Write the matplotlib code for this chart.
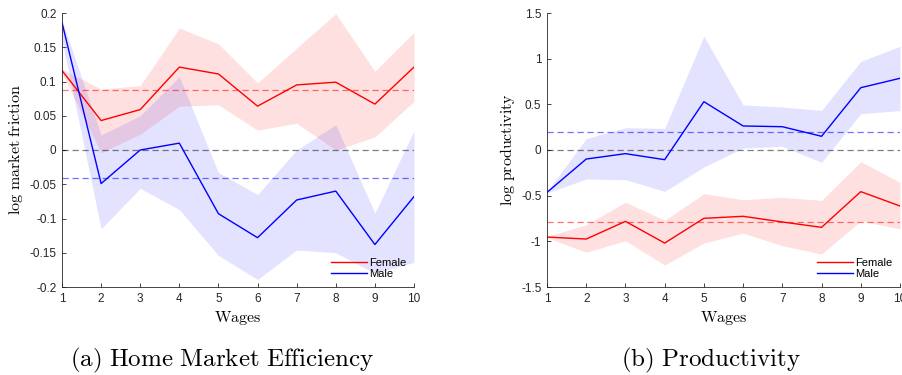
import matplotlib.pyplot as plt
import numpy as np

plt.rcParams['mathtext.fontset'] = 'cm'
plt.rcParams['font.family'] = ['Liberation Sans', 'DejaVu Sans']

wages = np.arange(1, 11)

# (a) log market friction
fric_female = [0.116, 0.043, 0.059, 0.121, 0.111, 0.064, 0.095, 0.099, 0.067, 0.121]
fric_female_hi = [0.118, 0.089, 0.094, 0.178, 0.155, 0.098, 0.149, 0.199, 0.115, 0.172]
fric_female_lo = [0.112, -0.004, 0.023, 0.064, 0.066, 0.029, 0.039, 0.000, 0.019, 0.071]
fric_male = [0.186, -0.049, 0.000, 0.010, -0.093, -0.128, -0.073, -0.060, -0.138, -0.068]
fric_male_hi = [0.190, 0.022, 0.050, 0.107, -0.033, -0.065, 0.000, 0.037, -0.092, 0.028]
fric_male_lo = [0.160, -0.115, -0.056, -0.087, -0.154, -0.189, -0.146, -0.150, -0.180, -0.164]
fric_female_mean = 0.088
fric_male_mean = -0.041

# (b) log productivity
prod_female = [-0.953, -0.975, -0.781, -1.019, -0.748, -0.726, -0.788, -0.847, -0.456, -0.613]
prod_female_hi = [-0.945, -0.818, -0.570, -0.770, -0.478, -0.544, -0.518, -0.551, -0.128, -0.354]
prod_female_lo = [-0.960, -1.120, -0.993, -1.260, -1.019, -0.910, -1.048, -1.139, -0.777, -0.865]
prod_male = [-0.464, -0.099, -0.040, -0.106, 0.529, 0.263, 0.255, 0.150, 0.682, 0.785]
prod_male_hi = [-0.455, 0.124, 0.244, 0.237, 1.245, 0.493, 0.471, 0.434, 0.971, 1.135]
prod_male_lo = [-0.470, -0.318, -0.325, -0.453, -0.187, 0.022, 0.040, -0.135, 0.398, 0.431]
prod_female_mean = -0.785
prod_male_mean = 0.193


def panel(ax, f, f_hi, f_lo, m, m_hi, m_lo, f_mean, m_mean, ylim, yticks, ylabel):
    ax.fill_between(wages, f_lo, f_hi, color='red', alpha=0.12, linewidth=0)
    ax.fill_between(wages, m_lo, m_hi, color='blue', alpha=0.11, linewidth=0)
    ax.axhline(0, color='black', linestyle='--', linewidth=0.9, alpha=0.5, dashes=(5, 3))
    ax.axhline(f_mean, color='red', linestyle='--', linewidth=0.9, alpha=0.55, dashes=(5, 3))
    ax.axhline(m_mean, color='blue', linestyle='--', linewidth=0.9, alpha=0.55, dashes=(5, 3))
    ax.plot(wages, f, color='red', linewidth=1.0, label='Female')
    ax.plot(wages, m, color='blue', linewidth=1.0, label='Male')

    ax.set_xlim(1, 10)
    ax.set_ylim(*ylim)
    ax.set_xticks(wages)
    ax.set_yticks(yticks)
    ax.set_yticklabels([f'{v:g}' for v in yticks])
    ax.spines['top'].set_visible(False)
    ax.spines['right'].set_visible(False)
    for s in ('left', 'bottom'):
        ax.spines[s].set_color('#262626')
        ax.spines[s].set_linewidth(0.6)
    ax.tick_params(direction='in', length=3, width=0.6, labelsize=8.5,
                   colors='#262626', pad=4)

    ax.set_ylabel(r'$\mathrm{%s}$' % ylabel.replace(' ', r'\ '), fontsize=11.5, labelpad=3)
    ax.set_xlabel(r'$\mathrm{Wages}$', fontsize=11.5, labelpad=3)

    ax.legend(loc='lower right', frameon=False, fontsize=8, handlelength=3.2,
              handletextpad=0.2, labelspacing=0.15, borderaxespad=0.3)


fig = plt.figure(figsize=(9.03, 3.75), dpi=100)
ax1 = fig.add_axes([62 / 903, 1 - 287 / 375, 352 / 903, 274 / 375])
ax2 = fig.add_axes([547 / 903, 1 - 287 / 375, 353 / 903, 274 / 375])

panel(ax1, fric_female, fric_female_hi, fric_female_lo,
      fric_male, fric_male_hi, fric_male_lo, fric_female_mean, fric_male_mean,
      (-0.2, 0.2), [-0.2, -0.15, -0.1, -0.05, 0, 0.05, 0.1, 0.15, 0.2],
      'log market friction')
panel(ax2, prod_female, prod_female_hi, prod_female_lo,
      prod_male, prod_male_hi, prod_male_lo, prod_female_mean, prod_male_mean,
      (-1.5, 1.5), [-1.5, -1, -0.5, 0, 0.5, 1, 1.5],
      'log productivity')

# sub-figure captions
fig.text(222 / 903, 1 - 360 / 375, r'$\mathrm{(a)\ Home\ Market\ Efficiency}$',
         ha='center', va='center', fontsize=18)
fig.text(711 / 903, 1 - 360 / 375, r'$\mathrm{(b)\ Productivity}$',
         ha='center', va='center', fontsize=18)

fig.savefig('out.png', dpi=100)
